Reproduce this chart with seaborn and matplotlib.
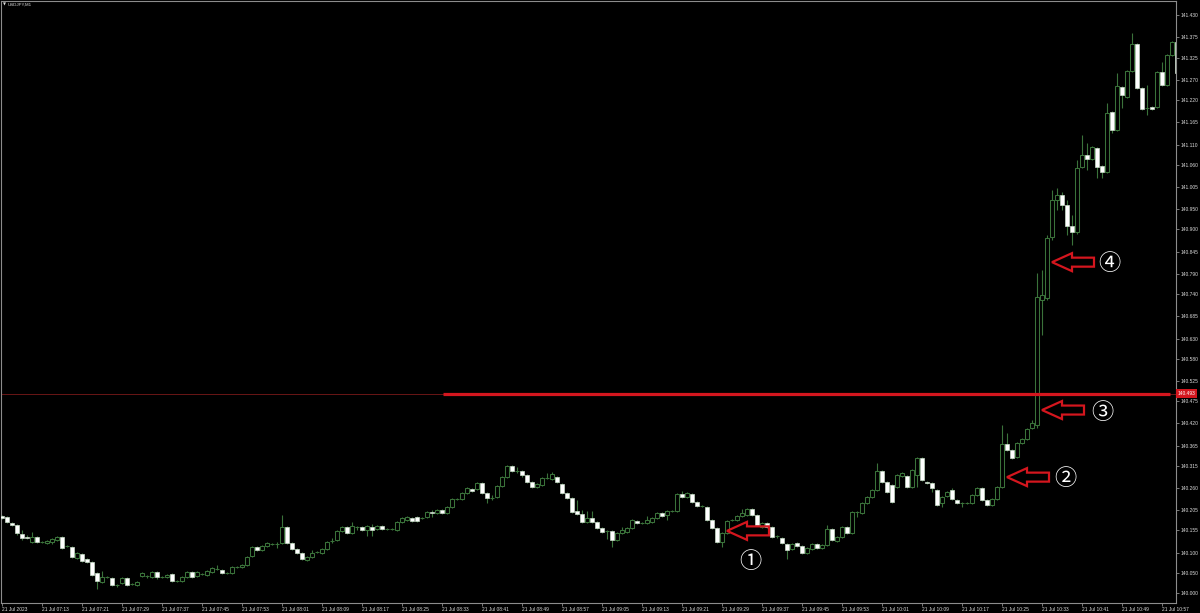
import numpy as np
import pandas as pd
import matplotlib
matplotlib.use('Agg')
import matplotlib.pyplot as plt
from matplotlib.patches import Polygon
from matplotlib.transforms import blended_transform_factory
import seaborn as sns

# USDJPY M1 bars, 21 Jul 2023 07:05 onwards
opens = [
    140.191, 140.188, 140.173, 140.168, 140.146, 140.139, 140.126, 140.139, 140.126, 140.124,
    140.126, 140.131, 140.139, 140.116, 140.114, 140.087, 140.097, 140.084, 140.077, 140.050,
    140.027, 140.040, 140.037, 140.020, 140.025, 140.037, 140.022, 140.020, 140.042, 140.042,
    140.040, 140.052, 140.040, 140.040, 140.047, 140.030, 140.030, 140.040, 140.052, 140.042,
    140.047, 140.045, 140.052, 140.059, 140.057, 140.050, 140.050, 140.064, 140.064, 140.069,
    140.092, 140.114, 140.106, 140.116, 140.121, 140.121, 140.124, 140.163, 140.124, 140.109,
    140.099, 140.082, 140.089, 140.101, 140.099, 140.109, 140.129, 140.131, 140.154, 140.163,
    140.149, 140.163, 140.163, 140.156, 140.163, 140.159, 140.166, 140.159, 140.159, 140.156,
    140.176, 140.181, 140.186, 140.188, 140.186, 140.188, 140.201, 140.198, 140.206, 140.198,
    140.213, 140.233, 140.233, 140.248, 140.257, 140.257, 140.272, 140.248, 140.235, 140.238,
    140.265, 140.287, 140.314, 140.302, 140.302, 140.292, 140.275, 140.262, 140.267, 140.285,
    140.282, 140.287, 140.270, 140.248, 140.235, 140.203, 140.196, 140.176, 140.186, 140.176,
    140.161, 140.154, 140.154, 140.131, 140.149, 140.151, 140.161, 140.178, 140.173, 140.173,
    140.176, 140.186, 140.198, 140.193, 140.203, 140.203, 140.245, 140.238, 140.245, 140.225,
    140.215, 140.213, 140.181, 140.161, 140.126, 140.149, 140.181, 140.181, 140.191, 140.193,
    140.208, 140.193, 140.163, 140.173, 140.163, 140.141, 140.136, 140.121, 140.109, 140.124,
    140.116, 140.099, 140.109, 140.121, 140.111, 140.119, 140.159, 140.129, 140.139, 140.163,
    140.149, 140.201, 140.198, 140.223, 140.238, 140.255, 140.302, 140.275, 140.267, 140.262,
    140.290, 140.290, 140.262, 140.292, 140.334, 140.275, 140.272, 140.255, 140.223, 140.240,
    140.255, 140.230, 140.223, 140.223, 140.223, 140.243, 140.260, 140.230, 140.218, 140.233,
    140.262, 140.369, 140.354, 140.337, 140.371, 140.381, 140.409, 140.416, 140.725, 140.730,
    140.881, 140.973, 140.985, 140.960, 140.908, 140.893, 141.054, 141.084, 141.074, 141.101,
    141.057, 141.042, 141.191, 141.146, 141.252, 141.228, 141.292, 141.359, 141.250, 141.200,
    141.203, 141.203, 141.290, 141.257, 141.332, 141.364,
]
highs = [
    140.193, 140.191, 140.176, 140.171, 140.156, 140.144, 140.151, 140.141, 140.129, 140.131,
    140.136, 140.141, 140.141, 140.119, 140.116, 140.101, 140.099, 140.087, 140.079, 140.052,
    140.055, 140.042, 140.040, 140.022, 140.040, 140.040, 140.025, 140.030, 140.052, 140.045,
    140.055, 140.055, 140.042, 140.047, 140.050, 140.032, 140.042, 140.055, 140.055, 140.055,
    140.050, 140.057, 140.064, 140.069, 140.059, 140.052, 140.067, 140.067, 140.072, 140.092,
    140.116, 140.116, 140.119, 140.126, 140.124, 140.126, 140.193, 140.166, 140.126, 140.111,
    140.101, 140.092, 140.106, 140.104, 140.111, 140.129, 140.136, 140.156, 140.166, 140.166,
    140.176, 140.166, 140.166, 140.168, 140.171, 140.168, 140.168, 140.161, 140.161, 140.178,
    140.188, 140.191, 140.188, 140.191, 140.188, 140.203, 140.206, 140.208, 140.208, 140.215,
    140.235, 140.235, 140.250, 140.262, 140.260, 140.275, 140.275, 140.250, 140.243, 140.267,
    140.290, 140.317, 140.317, 140.312, 140.305, 140.295, 140.277, 140.272, 140.287, 140.297,
    140.300, 140.290, 140.272, 140.250, 140.238, 140.230, 140.206, 140.203, 140.203, 140.178,
    140.163, 140.156, 140.156, 140.151, 140.163, 140.163, 140.183, 140.181, 140.176, 140.191,
    140.188, 140.201, 140.201, 140.206, 140.206, 140.248, 140.252, 140.250, 140.248, 140.228,
    140.218, 140.215, 140.183, 140.163, 140.151, 140.181, 140.183, 140.193, 140.208, 140.210,
    140.210, 140.196, 140.176, 140.176, 140.166, 140.144, 140.139, 140.124, 140.124, 140.126,
    140.119, 140.114, 140.124, 140.124, 140.121, 140.168, 140.161, 140.141, 140.166, 140.166,
    140.203, 140.203, 140.225, 140.240, 140.257, 140.322, 140.305, 140.277, 140.270, 140.295,
    140.300, 140.292, 140.307, 140.337, 140.337, 140.277, 140.275, 140.257, 140.240, 140.252,
    140.260, 140.233, 140.225, 140.225, 140.245, 140.262, 140.262, 140.233, 140.235, 140.265,
    140.416, 140.396, 140.357, 140.374, 140.384, 140.409, 140.428, 140.792, 140.799, 140.886,
    140.997, 141.002, 140.993, 140.973, 140.935, 141.072, 141.134, 141.114, 141.106, 141.104,
    141.059, 141.213, 141.193, 141.287, 141.255, 141.295, 141.386, 141.361, 141.252, 141.257,
    141.205, 141.292, 141.314, 141.334, 141.366, 141.366,
]
lows = [
    140.183, 140.173, 140.166, 140.144, 140.131, 140.134, 140.124, 140.124, 140.124, 140.121,
    140.121, 140.129, 140.109, 140.114, 140.087, 140.084, 140.077, 140.074, 140.042, 140.010,
    140.025, 140.037, 140.017, 140.015, 140.022, 140.017, 140.020, 140.017, 140.040, 140.037,
    140.037, 140.035, 140.037, 140.037, 140.027, 140.027, 140.027, 140.037, 140.037, 140.040,
    140.045, 140.042, 140.050, 140.057, 140.047, 140.047, 140.047, 140.062, 140.062, 140.067,
    140.089, 140.104, 140.104, 140.114, 140.119, 140.111, 140.121, 140.121, 140.106, 140.097,
    140.082, 140.079, 140.087, 140.099, 140.097, 140.106, 140.124, 140.129, 140.151, 140.146,
    140.146, 140.156, 140.154, 140.141, 140.141, 140.156, 140.156, 140.156, 140.156, 140.154,
    140.173, 140.178, 140.176, 140.176, 140.183, 140.186, 140.188, 140.196, 140.196, 140.196,
    140.210, 140.230, 140.230, 140.245, 140.250, 140.255, 140.245, 140.223, 140.230, 140.235,
    140.262, 140.285, 140.300, 140.297, 140.287, 140.272, 140.260, 140.260, 140.265, 140.282,
    140.280, 140.272, 140.245, 140.233, 140.198, 140.193, 140.173, 140.173, 140.173, 140.159,
    140.149, 140.134, 140.114, 140.129, 140.146, 140.149, 140.159, 140.171, 140.171, 140.171,
    140.173, 140.183, 140.188, 140.181, 140.201, 140.201, 140.235, 140.235, 140.223, 140.213,
    140.213, 140.178, 140.159, 140.124, 140.114, 140.146, 140.178, 140.178, 140.188, 140.191,
    140.191, 140.166, 140.161, 140.161, 140.136, 140.136, 140.121, 140.084, 140.106, 140.114,
    140.097, 140.097, 140.106, 140.109, 140.109, 140.116, 140.129, 140.126, 140.136, 140.146,
    140.146, 140.188, 140.196, 140.220, 140.235, 140.252, 140.272, 140.248, 140.223, 140.260,
    140.287, 140.260, 140.260, 140.262, 140.277, 140.270, 140.250, 140.215, 140.213, 140.238,
    140.230, 140.220, 140.213, 140.220, 140.220, 140.240, 140.228, 140.215, 140.215, 140.230,
    140.260, 140.352, 140.332, 140.334, 140.369, 140.379, 140.406, 140.409, 140.639, 140.725,
    140.874, 140.948, 140.948, 140.886, 140.861, 140.888, 141.052, 141.047, 141.072, 141.027,
    141.027, 141.039, 141.139, 141.144, 141.200, 141.225, 141.290, 141.247, 141.195, 141.183,
    141.195, 141.200, 141.255, 141.255, 141.329, 141.285,
]
closes = [
    140.186, 140.176, 140.168, 140.149, 140.136, 140.136, 140.139, 140.126, 140.126, 140.129,
    140.134, 140.139, 140.111, 140.116, 140.089, 140.099, 140.079, 140.077, 140.045, 140.030,
    140.040, 140.040, 140.020, 140.020, 140.037, 140.020, 140.022, 140.027, 140.050, 140.042,
    140.052, 140.040, 140.040, 140.045, 140.030, 140.030, 140.040, 140.052, 140.040, 140.052,
    140.047, 140.055, 140.062, 140.059, 140.050, 140.050, 140.064, 140.064, 140.069, 140.089,
    140.114, 140.106, 140.116, 140.124, 140.121, 140.121, 140.163, 140.124, 140.109, 140.099,
    140.084, 140.089, 140.099, 140.101, 140.109, 140.126, 140.129, 140.154, 140.163, 140.149,
    140.166, 140.163, 140.156, 140.166, 140.156, 140.166, 140.159, 140.159, 140.159, 140.176,
    140.186, 140.188, 140.178, 140.178, 140.186, 140.201, 140.198, 140.206, 140.198, 140.213,
    140.233, 140.233, 140.248, 140.260, 140.252, 140.272, 140.248, 140.235, 140.235, 140.265,
    140.287, 140.314, 140.302, 140.302, 140.292, 140.275, 140.262, 140.270, 140.285, 140.285,
    140.295, 140.275, 140.248, 140.235, 140.201, 140.196, 140.176, 140.186, 140.176, 140.161,
    140.151, 140.154, 140.131, 140.149, 140.156, 140.161, 140.181, 140.173, 140.173, 140.181,
    140.186, 140.198, 140.191, 140.203, 140.203, 140.245, 140.238, 140.248, 140.225, 140.215,
    140.215, 140.181, 140.161, 140.126, 140.149, 140.178, 140.181, 140.191, 140.198, 140.208,
    140.193, 140.168, 140.173, 140.163, 140.139, 140.141, 140.124, 140.106, 140.121, 140.116,
    140.099, 140.111, 140.121, 140.111, 140.119, 140.159, 140.131, 140.139, 140.163, 140.149,
    140.201, 140.201, 140.223, 140.238, 140.255, 140.302, 140.275, 140.250, 140.225, 140.292,
    140.297, 140.262, 140.305, 140.334, 140.280, 140.272, 140.260, 140.218, 140.238, 140.250,
    140.233, 140.223, 140.223, 140.223, 140.243, 140.260, 140.230, 140.218, 140.233, 140.262,
    140.369, 140.354, 140.334, 140.371, 140.381, 140.406, 140.421, 140.733, 140.738, 140.879,
    140.973, 140.985, 140.960, 140.908, 140.893, 141.052, 141.084, 141.074, 141.104, 141.054,
    141.042, 141.188, 141.146, 141.255, 141.233, 141.292, 141.359, 141.250, 141.198, 141.200,
    141.198, 141.290, 141.257, 141.332, 141.364, 141.287,
]

price_ticks = [
    140.000, 140.050, 140.100, 140.155, 140.205, 140.260, 140.315, 140.365, 140.420, 140.475,
    140.525, 140.580, 140.630, 140.685, 140.740, 140.790, 140.845, 140.900, 140.950, 141.005,
    141.060, 141.110, 141.165, 141.220, 141.270, 141.325, 141.375, 141.430,
]
time_labels = [
    '07:05', '07:13', '07:21', '07:29', '07:37', '07:45', '07:53', '08:01', '08:09', '08:17',
    '08:25', '08:33', '08:41', '08:49', '08:57', '09:05', '09:13', '09:21', '09:29', '09:37',
    '09:45', '09:53', '10:01', '10:09', '10:17', '10:25', '10:33', '10:41', '10:49', '10:57',
]
level_price = 140.493
level_from_bar = 88.2
level_to_bar = 233.6

notes = ['①', '②', '③', '④']
note_bars = [145, 201, 208, 210]
note_prices = [140.154, 140.287, 140.453, 140.819]
note_offsets = [(23, -31), (58, -1), (60, -2), (57, -1)]  # pixels from arrow tip

GREEN = '#3a723a'
RED = '#d4161e'
AXIS = '#8c8c8c'
TXT = '#dcdcdc'
SMALL = 3.5

sns.set_theme(style='dark', rc={
    'axes.facecolor': 'black',
    'figure.facecolor': 'black',
    'axes.edgecolor': AXIS,
    'axes.grid': False,
})
plt.rcParams['font.family'] = ['Liberation Sans', 'DejaVu Sans']

df = pd.DataFrame({'open': opens, 'high': highs, 'low': lows, 'close': closes})
df['time'] = pd.date_range('2023-07-21 07:05', periods=len(df), freq='min')
df['bar'] = np.arange(len(df))
bull = df['close'] >= df['open']

fig = plt.figure(figsize=(12, 6.13), dpi=100)
ax = fig.add_axes([1 / 1200, 10 / 613, 1175 / 1200, 602 / 613])

# wicks
ax.vlines(df['bar'], df['low'], df['high'], color=GREEN, lw=0.8, zorder=2)
# bodies
up = df[bull]
dn = df[~bull]
ax.bar(up['bar'], up['close'] - up['open'], bottom=up['open'], width=0.66,
       facecolor='black', edgecolor=GREEN, linewidth=0.75, zorder=3)
ax.bar(dn['bar'], dn['open'] - dn['close'], bottom=dn['close'], width=0.66,
       facecolor='white', edgecolor='#c8dcc8', linewidth=0.5, zorder=3)

# horizontal level + trend line
ax.axhline(level_price, color='#6a1616', lw=0.7, zorder=1)
ax.hlines(level_price, level_from_bar, level_to_bar, color=RED, lw=2.3, zorder=4)

ax.set_xlim(-0.2, 234.8)
ax.set_ylim(139.9755, 141.4653)

# price axis
ax.yaxis.tick_right()
ax.set_yticks(price_ticks)
ax.set_yticklabels([f'{p:.3f}' for p in price_ticks])
ax.tick_params(axis='y', which='both', right=True, left=False, length=2, width=0.6,
               color=AXIS, labelsize=SMALL, labelcolor=TXT, pad=1)

# time axis
lbl_times = pd.to_datetime(['2023-07-21 ' + t for t in time_labels])
tick_bars = [int(df.index[df['time'] == t][0]) for t in lbl_times]
tick_text = ['21 Jul 2023'] + ['21 Jul ' + t for t in time_labels[1:]]
ax.set_xticks(tick_bars)
ax.set_xticklabels(tick_text)
ax.tick_params(axis='x', which='both', bottom=True, length=2, width=0.6, color=AXIS,
               labelsize=SMALL, labelcolor=TXT, pad=1)
for lab in ax.get_xticklabels():
    lab.set_ha('left')

for sp in ax.spines.values():
    sp.set_color(AXIS)
    sp.set_linewidth(0.8)

# price tag of the level
tr = blended_transform_factory(ax.transAxes, ax.transData)
ax.text(1.0015, level_price, f'{level_price:.3f}', transform=tr, ha='left', va='center',
        fontsize=SMALL, color='white', zorder=6, clip_on=False,
        bbox=dict(boxstyle='square,pad=0.4', fc=RED, ec='none'))

# symbol caption
fig.text(3 / 1200, 1 - 5 / 613, '▼', fontsize=2.8, color=TXT, va='center', ha='left',
         family='DejaVu Sans')
fig.text(8 / 1200, 1 - 5 / 613, 'USDJPY,M1', fontsize=3.2, color=TXT, va='center', ha='left')

# hollow arrows pointing left + circled numbers
shape = np.array([(0, 0), (20, 9), (20, 4.5), (42, 4.5), (42, -4.5), (20, -4.5), (20, -9)])
inv = ax.transData.inverted()
for txt, b, p, off in zip(notes, note_bars, note_prices, note_offsets):
    tip = ax.transData.transform((b, p))
    verts = inv.transform(shape + tip)
    ax.add_patch(Polygon(verts, closed=True, facecolor='none', edgecolor=RED,
                         linewidth=1.6, joinstyle='miter', zorder=7))
    ax.annotate(txt, xy=(b, p), xytext=off, textcoords='offset pixels',
                ha='center', va='center', fontsize=16, color='white', zorder=7,
                family=['Noto Sans CJK JP', 'DejaVu Sans'])

fig.savefig('out.png', dpi=100, facecolor='black')
